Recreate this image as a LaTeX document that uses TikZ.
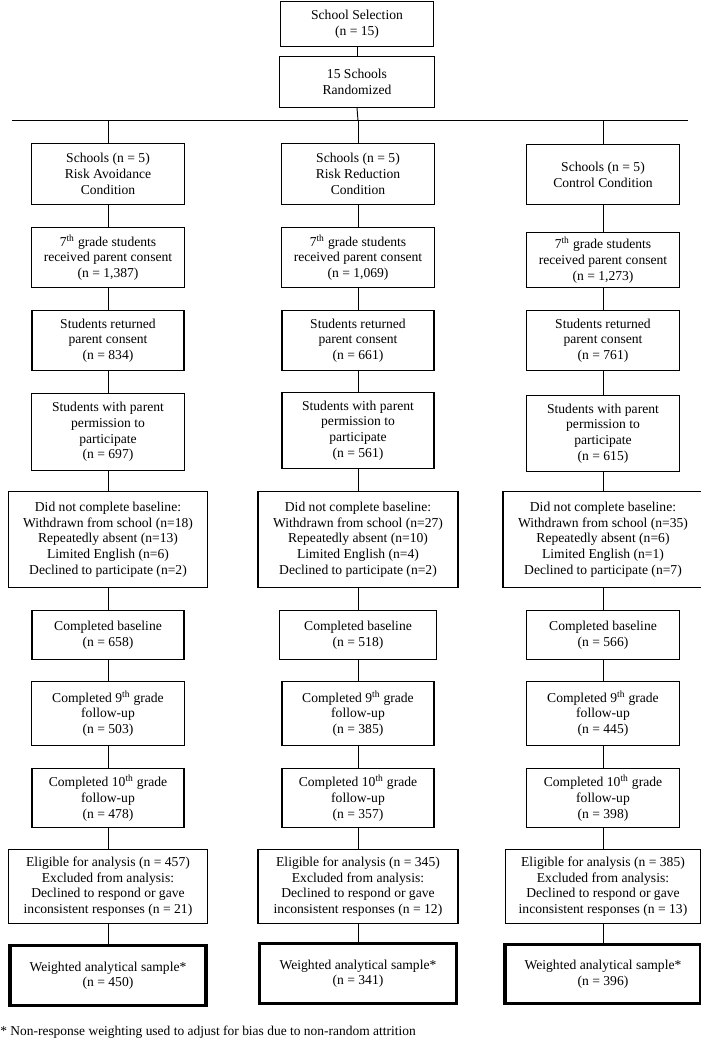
\documentclass[tikz,border=0pt]{standalone}
\usepackage{fontspec}
\setmainfont{Liberation Serif}
\tikzset{
  box/.style={draw, line width=0.8pt, align=center, anchor=north, inner sep=2pt, font=\fontsize{10.2}{11.8}\selectfont},
  sz/.style 2 args={minimum width=#1*0.75pt, minimum height=#2*0.75pt},
  heavy/.style={line width=2.4pt},
  padbot/.style={execute at end node={\\[-3pt]\mbox{}}},
  link/.style={line width=0.7pt}
}
\begin{document}
\begin{tikzpicture}[x=0.75pt,y=-0.75pt]
\useasboundingbox (0,0) rectangle (700,1049);
\pgfmathsetmacro{\cola}{108}
\pgfmathsetmacro{\colb}{358}
\pgfmathsetmacro{\colc}{603}
% top of the chart
\node[box,sz={153}{45}] (selection) at (357,1) {School Selection\\(n = 15)};
\node[box,sz={155}{51}] (random) at (357,56) {15 Schools\\Randomized};
\coordinate (barleft) at (12,120.4);
\coordinate (barright) at (688,120.4);
\coordinate (split) at (\colb,120.4);
% risk avoidance
\node[box,sz={153}{61}] (avschools) at (\cola,143) {Schools (n = 5)\\Risk Avoidance\\Condition};
\node[box,sz={153}{60}] (avconsent) at (\cola,227) {7\textsuperscript{th} grade students\\received parent consent\\(n = 1,387)};
\node[box,sz={152}{60}] (avreturned) at (\cola,310) {Students returned\\parent consent\\(n = 834)};
\node[box,sz={153}{77}] (avpermit) at (\cola,393) {Students with parent\\permission to\\participate\\(n = 697)};
\node[box,sz={199}{96}] (avmissed) at (\cola,491) {Did not complete baseline:\\Withdrawn from school (n=18)\\Repeatedly absent (n=13)\\Limited English (n=6)\\Declined to participate (n=2)};
\node[box,sz={152}{49}] (avbaseline) at (\cola,610) {Completed baseline\\(n = 658)};
\node[box,sz={153}{64}] (avninth) at (\cola,681) {Completed 9\textsuperscript{th} grade\\follow-up\\(n = 503)};
\node[box,sz={152}{59}] (avtenth) at (\cola,768) {Completed 10\textsuperscript{th} grade\\follow-up\\(n = 478)};
\node[box,sz={199}{74}] (aveligible) at (\cola,849) {Eligible for analysis (n = 457)\\Excluded from analysis:\\Declined to respond or gave\\inconsistent responses (n = 21)};
\node[box,heavy,padbot,sz={196}{60}] (avweighted) at (\cola,944) {Weighted analytical sample*\\(n = 450)};
% risk reduction
\node[box,sz={153}{61}] (rrschools) at (\colb,143) {Schools (n = 5)\\Risk Reduction\\Condition};
\node[box,sz={153}{60}] (rrconsent) at (\colb,227) {7\textsuperscript{th} grade students\\received parent consent\\(n = 1,069)};
\node[box,sz={152}{60}] (rrreturned) at (\colb,310) {Students returned\\parent consent\\(n = 661)};
\node[box,sz={152}{76}] (rrpermit) at (\colb,392) {Students with parent\\permission to\\participate\\(n = 561)};
\node[box,sz={200}{96}] (rrmissed) at (\colb,491) {Did not complete baseline:\\Withdrawn from school (n=27)\\Repeatedly absent (n=10)\\Limited English (n=4)\\Declined to participate (n=2)};
\node[box,sz={157}{49}] (rrbaseline) at (\colb,610) {Completed baseline\\(n = 518)};
\node[box,sz={152}{64}] (rrninth) at (\colb,681) {Completed 9\textsuperscript{th} grade\\follow-up\\(n = 385)};
\node[box,sz={152}{59}] (rrtenth) at (\colb,768) {Completed 10\textsuperscript{th} grade\\follow-up\\(n = 357)};
\node[box,sz={200}{74}] (rreligible) at (\colb,849) {Eligible for analysis (n = 345)\\Excluded from analysis:\\Declined to respond or gave\\inconsistent responses (n = 12)};
\node[box,heavy,padbot,sz={197}{60}] (rrweighted) at (\colb,942) {Weighted analytical sample*\\(n = 341)};
% control
\node[box,padbot,sz={153}{60}] (ccschools) at (\colc,144) {Schools (n = 5)\\Control Condition};
\node[box,sz={153}{55}] (ccconsent) at (\colc,232) {7\textsuperscript{th} grade students\\received parent consent\\(n = 1,273)};
\node[box,sz={153}{60}] (ccreturned) at (\colc,310) {Students returned\\parent consent\\(n = 761)};
\node[box,sz={153}{76}] (ccpermit) at (\colc,395) {Students with parent\\permission to\\participate\\(n = 615)};
\node[box,sz={200}{96}] (ccmissed) at (\colc,491) {Did not complete baseline:\\Withdrawn from school (n=35)\\Repeatedly absent (n=6)\\Limited English (n=1)\\Declined to participate (n=7)};
\node[box,sz={153}{49}] (ccbaseline) at (\colc,610) {Completed baseline\\(n = 566)};
\node[box,sz={153}{64}] (ccninth) at (\colc,681) {Completed 9\textsuperscript{th} grade\\follow-up\\(n = 445)};
\node[box,sz={153}{59}] (cctenth) at (\colc,768) {Completed 10\textsuperscript{th} grade\\follow-up\\(n = 398)};
\node[box,sz={195}{74}] (cceligible) at (\colc,849) {Eligible for analysis (n = 385)\\Excluded from analysis:\\Declined to respond or gave\\inconsistent responses (n = 13)};
\node[box,heavy,padbot,sz={196}{59}] (ccweighted) at (\colc,943) {Weighted analytical sample*\\(n = 396)};
% footnote
\node[anchor=west, inner sep=0pt, font=\fontsize{10.1}{12}\selectfont] (footnote) at (0,1032) {* Non-response weighting used to adjust for bias due to non-random attrition};
% connectors
\draw[link] (selection) -- (random);
\draw[link] (random.south) -- (split);
\draw[link] (barleft) -- (barright);
\draw[link] (avschools.north) -- (avschools.north |- split);
\draw[link] (rrschools.north) -- (rrschools.north |- split);
\draw[link] (ccschools.north) -- (ccschools.north |- split);
\draw[link] (avschools) -- (avconsent) -- (avreturned) -- (avpermit) -- (avmissed) -- (avbaseline) -- (avninth) -- (avtenth) -- (aveligible) -- (avweighted);
\draw[link] (rrschools) -- (rrconsent) -- (rrreturned) -- (rrpermit) -- (rrmissed) -- (rrbaseline) -- (rrninth) -- (rrtenth) -- (rreligible) -- (rrweighted);
\draw[link] (ccschools) -- (ccconsent) -- (ccreturned) -- (ccpermit) -- (ccmissed) -- (ccbaseline) -- (ccninth) -- (cctenth) -- (cceligible) -- (ccweighted);
\end{tikzpicture}
\end{document}
